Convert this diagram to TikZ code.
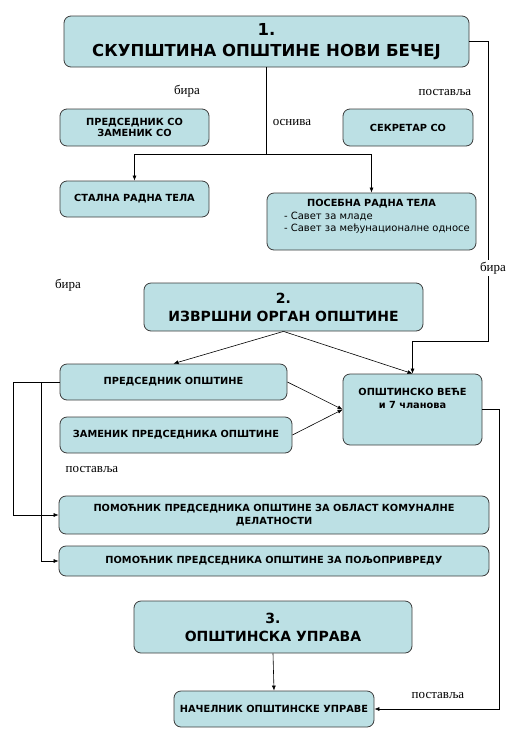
\documentclass[tikz,border=0pt]{standalone}
\usepackage{fontspec}
\usepackage{tikz}
\usepackage{xcolor}
\usetikzlibrary{arrows.meta}
\setmainfont{DejaVu Sans}
\newfontfamily\serifcyr{Liberation Serif}
\definecolor{boxblue}{RGB}{188,224,228}
\definecolor{boxline}{RGB}{60,60,60}

\begin{document}
\begin{tikzpicture}
  [x=1pt,y=-1pt,
   box/.style={draw=boxline,fill=boxblue,rounded corners=7pt,line width=.8pt,
     align=center,inner sep=2pt,font=\fontsize{9.8}{11.5}\selectfont\bfseries},
   bigbox/.style={box,font=\fontsize{14}{18}\selectfont\bfseries},
   note/.style={font=\serifcyr\fontsize{13}{15}\selectfont,fill=white,inner sep=2pt},
   link/.style={draw=black,line width=.6pt},
   >={Latex[length=5pt,width=4pt]}]

  \useasboundingbox (0,0) rectangle (521,748);

  % boxes
  \node[bigbox,minimum width=405pt,minimum height=51pt,
    font=\fontsize{16.5}{21}\selectfont\bfseries] (skup) at (266.5,41.5)
    {1.\\СКУПШТИНА ОПШТИНЕ НОВИ БЕЧЕЈ};
  \node[box,minimum width=149pt,minimum height=37pt] (predso) at (134.5,127.5)
    {ПРЕДСЕДНИК СО\\ЗАМЕНИК СО};
  \node[box,minimum width=130pt,minimum height=37pt] (sekretar) at (408,127.5)
    {СЕКРЕТАР СО};
  \node[box,minimum width=149pt,minimum height=36pt] (stalna) at (134.5,199)
    {СТАЛНА РАДНА ТЕЛА};
  \node[box,minimum width=209pt,minimum height=57pt] (posebna) at (371.5,221.5)
    {\parbox[c][50pt][t]{203pt}{\vspace*{3pt}\centering ПОСЕБНА РАДНА ТЕЛА\par
      \raggedright\mdseries\fontsize{10}{12.5}\selectfont
      \hspace*{14pt}- Савет за младе\\
      \hspace*{14pt}- Савет за међунационалне односе}};

  \node[bigbox,minimum width=279pt,minimum height=48pt] (izvrsni) at (283.5,307)
    {2.\\ИЗВРШНИ ОРГАН ОПШТИНЕ};
  \node[box,minimum width=227pt,minimum height=36pt] (predop) at (173.5,382)
    {ПРЕДСЕДНИК ОПШТИНЕ};
  \node[box,minimum width=232pt,minimum height=36pt] (zamenik) at (176,435)
    {ЗАМЕНИК ПРЕДСЕДНИКА ОПШТИНЕ};
  \node[box,minimum width=139pt,minimum height=71pt] (vece) at (412.5,409.5)
    {\parbox[c][65pt][t]{133pt}{\centering\vspace*{11pt}ОПШТИНСКО ВЕЋЕ\\[2pt]и 7 чланова}};
  \node[box,minimum width=430pt,minimum height=38pt] (pomkom) at (274,515)
    {ПОМОЋНИК ПРЕДСЕДНИКА ОПШТИНЕ ЗА ОБЛАСТ КОМУНАЛНЕ\\[2pt]ДЕЛАТНОСТИ};
  \node[box,minimum width=430pt,minimum height=30pt] (pompolj) at (274,561)
    {ПОМОЋНИК ПРЕДСЕДНИКА ОПШТИНЕ ЗА ПОЉОПРИВРЕДУ};

  \node[bigbox,minimum width=278pt,minimum height=52pt] (uprava) at (273,627)
    {3.\\ОПШТИНСКА УПРАВА};
  \node[box,minimum width=200pt,minimum height=36pt] (nacelnik) at (274,709)
    {НАЧЕЛНИК ОПШТИНСКЕ УПРАВЕ};

  % bends
  \coordinate (fork) at (266.5,154);
  \coordinate (rightup) at (488,341);
  \coordinate (rightdown) at (499,709);
  \coordinate (leftout) at (13,382);
  \coordinate (leftin) at (41,382);

  % connectors
  \draw[link] (skup.south) -- (fork);
  \draw[link,->] (fork) -| (stalna.north);
  \draw[link,->] (fork) -| (posebna.north);
  \draw[link,->] (skup.east) -| (rightup) -| (vece.north);

  \foreach \from/\to in
  {izvrsni.south/predop.north,izvrsni.south/vece.north,
   predop.east/vece.west,zamenik.east/vece.west,uprava.south/nacelnik.north}
    \draw[link,->] (\from) -- (\to);

  \draw[link,->] (vece.east) -| (rightdown) -- (nacelnik.east);
  \draw[link,->] (predop.west) -- (leftout) |- (pomkom.west);
  \draw[link,->] (leftin) |- (pompolj.west);

  % labels
  \node[note] (bira1) at (187,91) {бира};
  \node[note] (osniva) at (292,122) {оснива};
  \node[note] (postavlja1) at (445,92) {поставља};
  \node[note] (bira2) at (493,268) {бира};
  \node[note] (bira3) at (68,285) {бира};
  \node[note] (postavlja2) at (92,469) {поставља};
  \node[note] (postavlja3) at (438,695) {поставља};
\end{tikzpicture}
\end{document}
